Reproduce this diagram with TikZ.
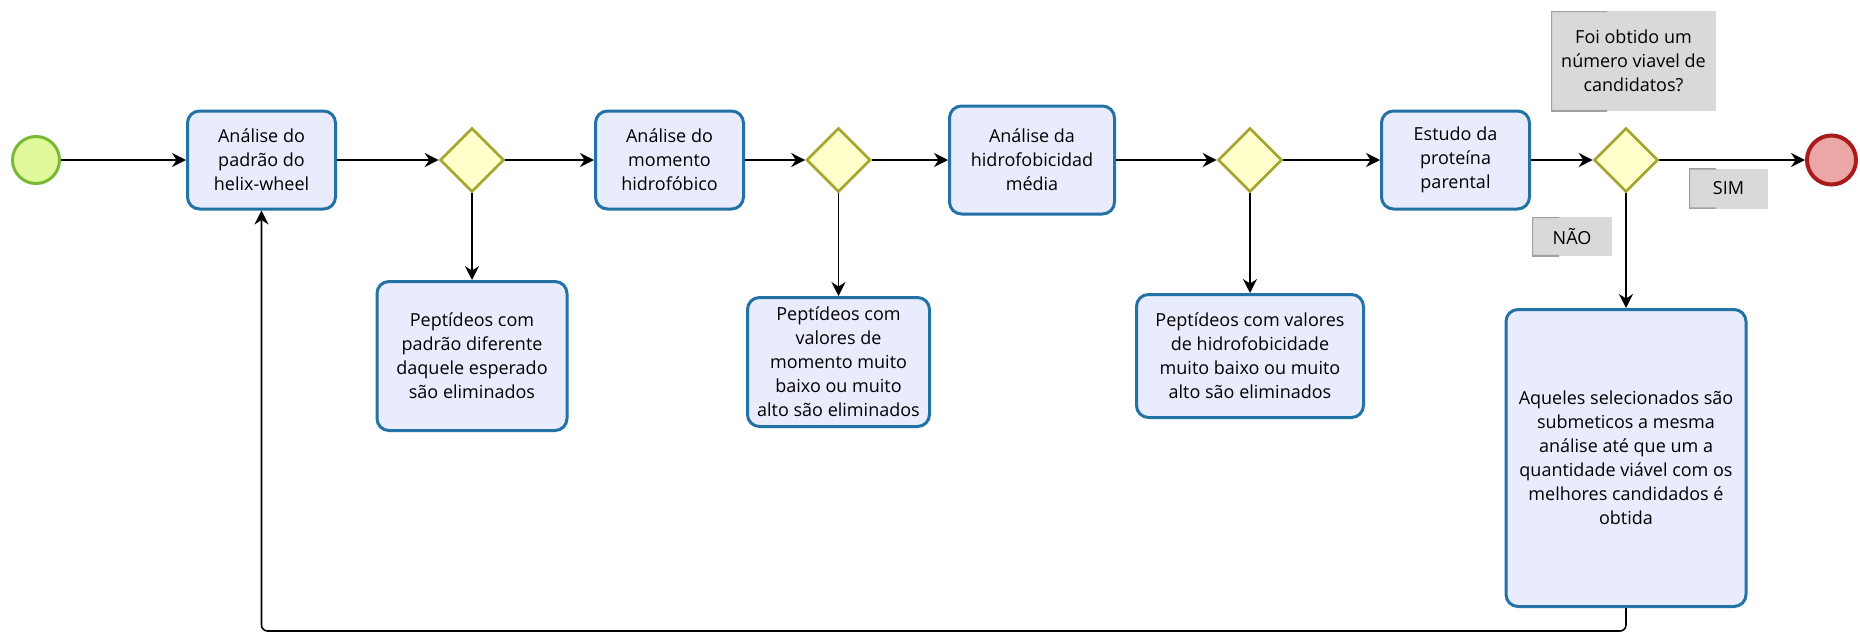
\documentclass[tikz,border=0pt]{standalone}
\usepackage{fontspec}
\setmainfont{Open Sans}
\usepackage{xcolor}
\usetikzlibrary{positioning, arrows.meta, shapes.geometric, calc}
\definecolor{startLine}{HTML}{78B832}
\definecolor{startFill}{HTML}{DFF99B}
\definecolor{endLine}{HTML}{A61C1C}
\definecolor{endFill}{HTML}{EBA6A6}
\definecolor{taskLine}{HTML}{2272A6}
\definecolor{taskFill}{HTML}{E9ECFC}
\definecolor{gwLine}{HTML}{A6A62E}
\definecolor{gwFill}{HTML}{FFFFCC}
\definecolor{noteFill}{HTML}{D9D9D9}
\definecolor{noteEdge}{HTML}{A0A0A0}
\newcommand\bpfont{\fontsize{9}{12}\selectfont}
\tikzset{
  startev/.style={circle, draw=startLine, fill=startFill, line width=1.5pt,
    minimum size=23.5pt, inner sep=0pt},
  endev/.style={circle, draw=endLine, fill=endFill, line width=2pt,
    minimum size=24.5pt, inner sep=0pt},
  taskbox/.style={rectangle, rounded corners=6pt, draw=taskLine,
    fill=taskFill, line width=1.5pt, align=center, font=\bpfont,
    inner sep=1pt},
  gateway/.style={diamond, draw=gwLine, fill=gwFill, line width=1.3pt,
    minimum width=32pt, minimum height=32pt, inner sep=0pt},
  notebox/.style={rectangle, fill=noteFill, align=center, font=\bpfont,
    inner sep=1pt, path picture={
      \draw[noteEdge, line width=1.2pt]
        ($(path picture bounding box.north west)!0.34!(path picture bounding box.north east)$)
        -| (path picture bounding box.south west)
        -- ($(path picture bounding box.south west)!0.34!(path picture bounding box.south east)$);
    }},
  flowarrow/.style={-{Stealth[length=7pt, width=7pt]}, line width=0.8pt, black},
}

\begin{document}
\begin{tikzpicture}[x=0.5pt, y=-0.5pt]
    \useasboundingbox (0,0) rectangle (1860,633);
    % main flow
    \node[startev] (start) at (36,160) {};
    \node[taskbox, minimum width=74pt, minimum height=49pt] (helix)
      at (261.5,160) {Análise do\\padrão do\\helix-wheel};
    \node[gateway] (gw1) at (472,160) {};
    \node[taskbox, minimum width=74pt, minimum height=49pt] (momento)
      at (669.5,160) {Análise do\\momento\\hidrofóbico};
    \node[gateway] (gw2) at (838.5,160) {};
    \node[taskbox, minimum width=82.5pt, minimum height=54pt] (hidro)
      at (1032,160) {Análise da\\hidrofobicidad\\média};
    \node[gateway] (gw3) at (1250,160) {};
    \node[taskbox, minimum width=74pt, minimum height=49pt] (parental)
      at (1455.5,160) {Estudo da\\proteína\\parental};
    \node[gateway] (gw4) at (1626,160) {};
    \node[endev] (stop) at (1831.5,160) {};
    % rejected candidates
    \node[taskbox, minimum width=95pt, minimum height=74.5pt] (elim1)
      at (472,356) {Peptídeos com\\padrão diferente\\daquele esperado\\são eliminados};
    \node[taskbox, minimum width=91pt, minimum height=64.5pt] (elim2)
      at (838.5,362) {Peptídeos com\\valores de\\momento muito\\baixo ou muito\\alto são eliminados};
    \node[taskbox, minimum width=113.5pt, minimum height=61.5pt] (elim3)
      at (1250,356) {Peptídeos com valores\\de hidrofobicidade\\muito baixo ou muito\\alto são eliminados};
    \node[taskbox, minimum width=120pt, minimum height=148.5pt] (redo)
      at (1626,458) {Aqueles selecionados são\\submeticos a mesma\\análise até que um a\\quantidade viável com os\\melhores candidados é\\obtida};
    % annotations
    \node[notebox, minimum width=82.5pt, minimum height=50pt] (question)
      at (1633.5,61) {Foi obtido um\\número viavel de\\candidatos?};
    \node[notebox, minimum width=39.5pt, minimum height=20pt] (sim)
      at (1728.5,188.5) {SIM};
    \node[notebox, minimum width=40pt, minimum height=19.5pt] (nao)
      at (1572,236.5) {NÃO};
    % connectors
    \draw[flowarrow] (start) -- (helix);
    \draw[flowarrow] (helix) -- (gw1);
    \draw[flowarrow] (gw1) -- (momento);
    \draw[flowarrow] (momento) -- (gw2);
    \draw[flowarrow] (gw2) -- (hidro);
    \draw[flowarrow] (hidro) -- (gw3);
    \draw[flowarrow] (gw3) -- (parental);
    \draw[flowarrow] (parental) -- (gw4);
    \draw[flowarrow] (gw4) -- (stop);
    \draw[flowarrow] (gw1) -- (elim1);
    \draw[flowarrow] (gw2) -- (elim2);
    \draw[flowarrow] (gw3) -- (elim3);
    \draw[flowarrow] (gw4) -- (redo);
    \draw[flowarrow, rounded corners=3pt] (redo.south) -- ++(0,23) -| (helix.south);
\end{tikzpicture}
\end{document}
